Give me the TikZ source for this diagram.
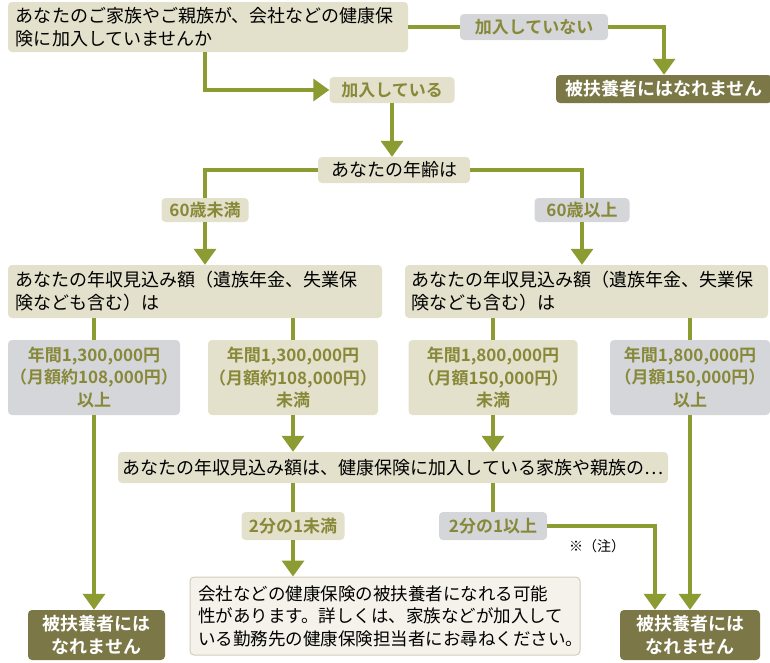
\documentclass[tikz,border=0pt]{standalone}
\usepackage{fontspec}
\setmainfont{Noto Sans CJK JP}[BoldFont={Noto Sans CJK JP Bold}]
\usetikzlibrary{arrows.meta}

\definecolor{askfill}{HTML}{E3E0CB}
\definecolor{nofill}{HTML}{D5D6DA}
\definecolor{nogofill}{HTML}{7B7746}
\definecolor{linkcol}{HTML}{8C9B32}
\definecolor{labtext}{HTML}{878838}
\definecolor{resfill}{HTML}{F4F2EA}
\definecolor{resline}{HTML}{D2CEBB}

\tikzset{
  box/.style={rounded corners=4pt, inner sep=0pt, align=center},
  ask/.style={box, fill=askfill, text=black, align=left, font=\fontsize{18}{23}\selectfont},
  yeslab/.style={box, fill=askfill, text=labtext, font=\bfseries\fontsize{17}{22.5}\selectfont},
  nolab/.style={box, fill=nofill, text=labtext, font=\bfseries\fontsize{17}{22.5}\selectfont},
  nogo/.style={box, fill=nogofill, text=white, font=\bfseries\fontsize{18}{23}\selectfont},
  link/.style={draw=linkcol, line width=3.5pt},
  go/.style={link, -{Triangle[width=22pt,length=16pt]}},
}

\begin{document}
\begin{tikzpicture}[x=1pt,y=-1pt]
    \useasboundingbox (0,0) rectangle (770,662);

    % First question and its two answers
    \node[ask, text width=384pt, minimum width=400pt, minimum height=50pt] (q1) at (208,27)
        {あなたのご家族やご親族が、会社などの健康保\\険に加入していませんか};
    \node[nolab, minimum width=148pt, minimum height=26pt] (notin) at (534,27) {加入していない};
    \node[nogo, minimum width=216pt, minimum height=28pt] (nbtop) at (664,89) {被扶養者にはなれません};
    \node[yeslab, minimum width=125pt, minimum height=26pt] (inlab) at (392,90) {加入している};

    % Age
    \node[ask, minimum width=152pt, minimum height=26pt] (age) at (394,170) {あなたの年齢は};
    \node[yeslab, minimum width=87pt, minimum height=24pt] (lt60) at (205,210) {60歳未満};
    \node[nolab, minimum width=95pt, minimum height=24pt] (ge60) at (582,210) {60歳以上};

    % Income questions
    \node[ask, text width=360pt, minimum width=374pt, minimum height=53pt] (incL) at (195,291.5)
        {あなたの年収見込み額（遺族年金、失業保\\険なども含む）は};
    \node[ask, text width=350pt, minimum width=363pt, minimum height=53pt] (incR) at (586.5,291.5)
        {あなたの年収見込み額（遺族年金、失業保\\険なども含む）は};

    % Income limits
    \node[nolab, minimum width=172pt, minimum height=75pt] (amtA) at (94,377.5)
        {年間1,300,000円\\（月額約108,000円）\\以上};
    \node[yeslab, minimum width=170pt, minimum height=75pt] (amtB) at (293,377.5)
        {年間1,300,000円\\（月額約108,000円）\\未満};
    \node[yeslab, minimum width=169pt, minimum height=75pt] (amtC) at (493,377.5)
        {年間1,800,000円\\（月額150,000円）\\未満};
    \node[nolab, minimum width=160pt, minimum height=75pt] (amtD) at (690,377.5)
        {年間1,800,000円\\（月額150,000円）\\以上};

    % Share of the family income
    \node[ask, minimum width=550pt, minimum height=31pt] (q2) at (393,467.5)
        {あなたの年収見込み額は、健康保険に加入している家族や親族の…};
    \node[yeslab, minimum width=103pt, minimum height=28pt] (halflt) at (293,526) {2分の1未満};
    \node[nolab, minimum width=108pt, minimum height=28pt] (halfge) at (493,526) {2分の1以上};
    \node[font=\fontsize{14}{16}\selectfont] (note) at (597,546) {※（注）};

    % Results
    \node[box, fill=resfill, draw=resline, line width=1pt, align=left, text width=374pt,
        minimum width=390pt, minimum height=78pt, font=\fontsize{17.5}{22.5}\selectfont] (res) at (385,616)
        {会社などの健康保険の被扶養者になれる可能\\性があります。詳しくは、家族などが加入して\\いる勤務先の健康保険担当者にお尋ねください。};
    \node[nogo, minimum width=137pt, minimum height=50pt] (nbL) at (96.5,635) {被扶養者には\\なれません};
    \node[nogo, minimum width=140pt, minimum height=50pt] (nbR) at (690,635) {被扶養者には\\なれません};
    \coordinate (noteTurn) at (655,0);

    % Connectors
    \draw[link] (q1.east) -- (notin.west);
    \draw[go] (notin.east) -| (nbtop.north);
    \draw[go] (q1.south -| 205,0) |- (inlab.west);
    \draw[go] (inlab.south) -- (inlab.south |- age.north);
    \draw[link] (age.west) -| (lt60.north);
    \draw[go] (lt60.south) -- (lt60.south |- incL.north);
    \draw[link] (age.east) -| (ge60.north);
    \draw[go] (ge60.south) -- (ge60.south |- incR.north);
    \draw[link] (amtA.north |- incL.south) -- (amtA.north);
    \draw[link] (amtB.north |- incL.south) -- (amtB.north);
    \draw[link] (amtC.north |- incR.south) -- (amtC.north);
    \draw[link] (amtD.north |- incR.south) -- (amtD.north);
    \draw[go] (amtA.south) -- (amtA.south |- nbL.north);
    \draw[go] (amtB.south) -- (amtB.south |- q2.north);
    \draw[go] (amtC.south) -- (amtC.south |- q2.north);
    \draw[go] (amtD.south) -- (amtD.south |- nbR.north);
    \draw[link] (halflt.north |- q2.south) -- (halflt.north);
    \draw[go] (halflt.south) -- (halflt.south |- res.north);
    \draw[link] (halfge.north |- q2.south) -- (halfge.north);
    \draw[go] (halfge.east) -| (nbR.north -| noteTurn);

\end{tikzpicture}
\end{document}
